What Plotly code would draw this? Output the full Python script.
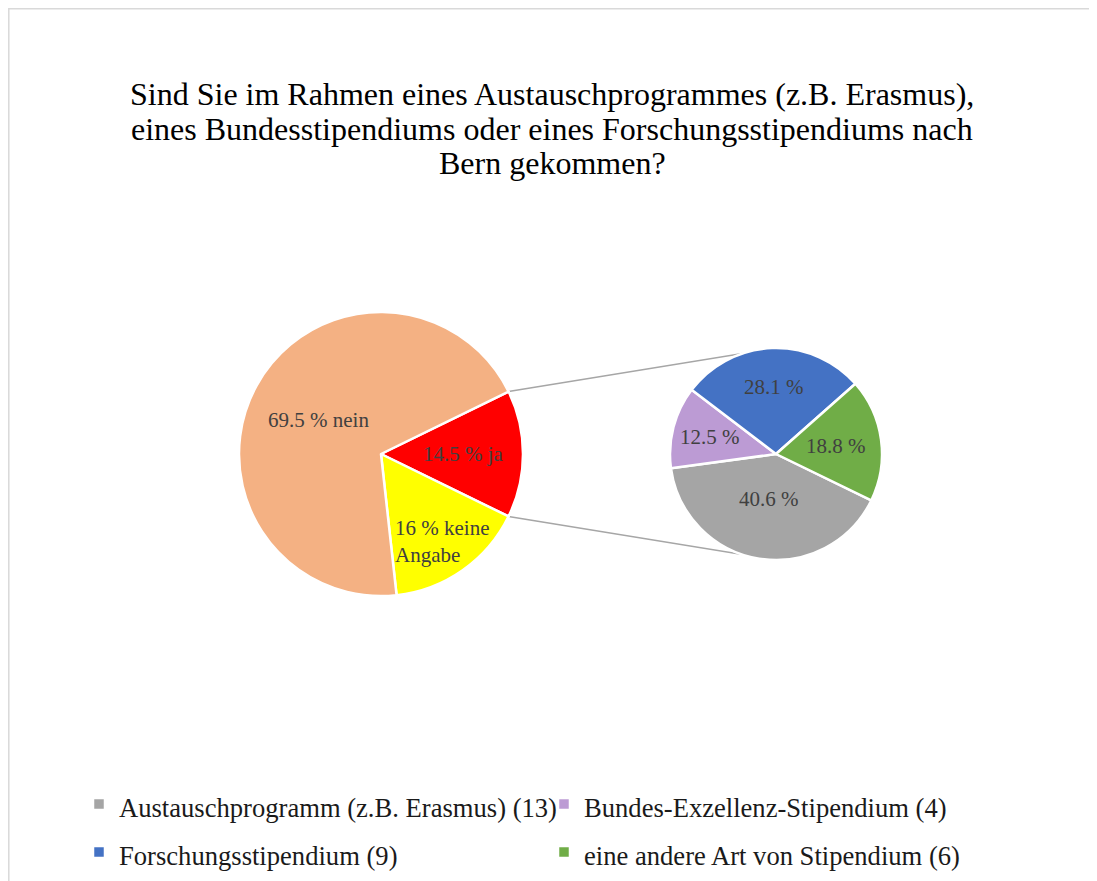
import math
import plotly.graph_objects as go

W, H = 1097, 881
OFF = 8  # page body margin of the browser

title_lines = [
    "Sind Sie im Rahmen eines Austauschprogrammes (z.B. Erasmus),",
    "eines Bundesstipendiums oder eines Forschungsstipendiums nach",
    "Bern gekommen?",
]

main_labels = ["ja", "keine Angabe", "nein"]
main_values = [14.5, 16, 69.5]
main_text = ["14.5 % ja", "16 % keine<br>Angabe", "69.5 % nein"]
main_colors = ["#FF0000", "#FFFF00", "#F4B183"]

sub_names = [
    "Austauschprogramm (z.B. Erasmus)",
    "Bundes-Exzellenz-Stipendium",
    "Forschungsstipendium",
    "eine andere Art von Stipendium",
]
sub_counts = [13, 4, 9, 6]
sub_colors = ["#A5A5A5", "#BC9BD4", "#4472C4", "#70AD47"]

FONT = "Liberation Serif"
LABEL_COLOR = "#404040"
LABEL_SIZE = 21

# label distance from pie centre, as fraction of radius (style)
main_label_r = [0.58, 0.75, 0.5]
sub_label_r = [0.43, 0.64, 0.63, 0.57]

# geometry (figure pixels)
c1x, c1y, r1 = 381 - OFF, 454 - OFF, 142
c2x, c2y, r2 = 776 - OFF, 454 - OFF, 106

main_rot = 90 - main_values[0] / sum(main_values) * 360 / 2
sub_rot = 116


def dom(cx, cy, r):
    return dict(x=[(cx - r) / W, (cx + r) / W], y=[1 - (cy + r) / H, 1 - (cy - r) / H])


def label_annotations(values, texts, rot, cx, cy, r, fracs, align="center"):
    total = sum(values)
    out = []
    cum = 0
    for v, t, f in zip(values, texts, fracs):
        mid = math.radians(rot + (cum + v / 2) / total * 360)
        cum += v
        x = cx + f * r * math.sin(mid)
        y = cy - f * r * math.cos(mid)
        out.append(dict(text=t, xref="paper", yref="paper", x=x / W, y=1 - y / H,
                        xanchor="center", yanchor="middle", showarrow=False,
                        align="left", font=dict(family=FONT, size=LABEL_SIZE, color=LABEL_COLOR)))
    return out


sub_total = sum(sub_counts)
sub_text = [f"{c / sub_total * 100:.1f} %" for c in sub_counts]
LEG_TXT = 26.6
sub_labels = [f"<span style='font-size:{LEG_TXT}px'>{n} ({c})</span>" for n, c in zip(sub_names, sub_counts)]

fig = go.Figure()
fig.add_trace(go.Pie(
    labels=main_labels, values=main_values, text=main_text,
    textinfo="none", sort=False, direction="clockwise", rotation=main_rot,
    marker=dict(colors=main_colors, line=dict(color="white", width=2.5)),
    domain=dom(c1x, c1y, r1), showlegend=False, hoverinfo="label+value",
))
fig.add_trace(go.Pie(
    labels=sub_labels, values=sub_counts, text=sub_text,
    textinfo="none", sort=False, direction="clockwise", rotation=sub_rot,
    marker=dict(colors=sub_colors, line=dict(color="white", width=2.5)),
    domain=dom(c2x, c2y, r2), showlegend=True, hoverinfo="value",
))

# connector lines from the "ja" slice edges to the secondary pie
a0 = math.radians(main_rot)
a1 = math.radians(main_rot + main_values[0] / sum(main_values) * 360)
p_top = (c1x + r1 * math.sin(a0), c1y - r1 * math.cos(a0))
p_bot = (c1x + r1 * math.sin(a1), c1y - r1 * math.cos(a1))
q_top = (c2x, c2y - r2)
q_bot = (c2x, c2y + r2)
shapes = []
for p, q in [(p_top, q_top), (p_bot, q_bot)]:
    shapes.append(dict(type="line", xref="paper", yref="paper", layer="below",
                       x0=p[0] / W, y0=1 - p[1] / H, x1=q[0] / W, y1=1 - q[1] / H,
                       line=dict(color="#A6A6A6", width=1.5)))
shapes.append(dict(type="rect", xref="paper", yref="paper", layer="below",
                   x0=0.8 / W, y0=-0.2, x1=1.2, y1=1 - 0.8 / H,
                   line=dict(color="#D9D9D9", width=1.5), fillcolor="rgba(0,0,0,0)"))

annotations = []
for i, t in enumerate(title_lines):
    annotations.append(dict(text=t, xref="paper", yref="paper", x=(552 - OFF) / W,
                            y=1 - (94 - OFF + i * 34.5) / H, xanchor="center", yanchor="middle",
                            showarrow=False, font=dict(family=FONT, size=32, color="#000000")))
annotations += label_annotations(main_values, main_text, main_rot, c1x, c1y, r1, main_label_r)
annotations += label_annotations(sub_counts, sub_text, sub_rot, c2x, c2y, r2, sub_label_r)

fig.update_layout(
    width=W, height=H,
    margin=dict(l=0, r=0, t=0, b=0),
    paper_bgcolor="white", plot_bgcolor="white",
    shapes=shapes, annotations=annotations,
    legend=dict(orientation="h", x=71 / W, xanchor="left", y=1 - 767 / H, yanchor="top",
                entrywidth=420, entrywidthmode="pixels",
                font=dict(family=FONT, size=34.6, color="#1a1a1a"),
                bgcolor="rgba(0,0,0,0)"),
)

fig.write_html("out.html")
